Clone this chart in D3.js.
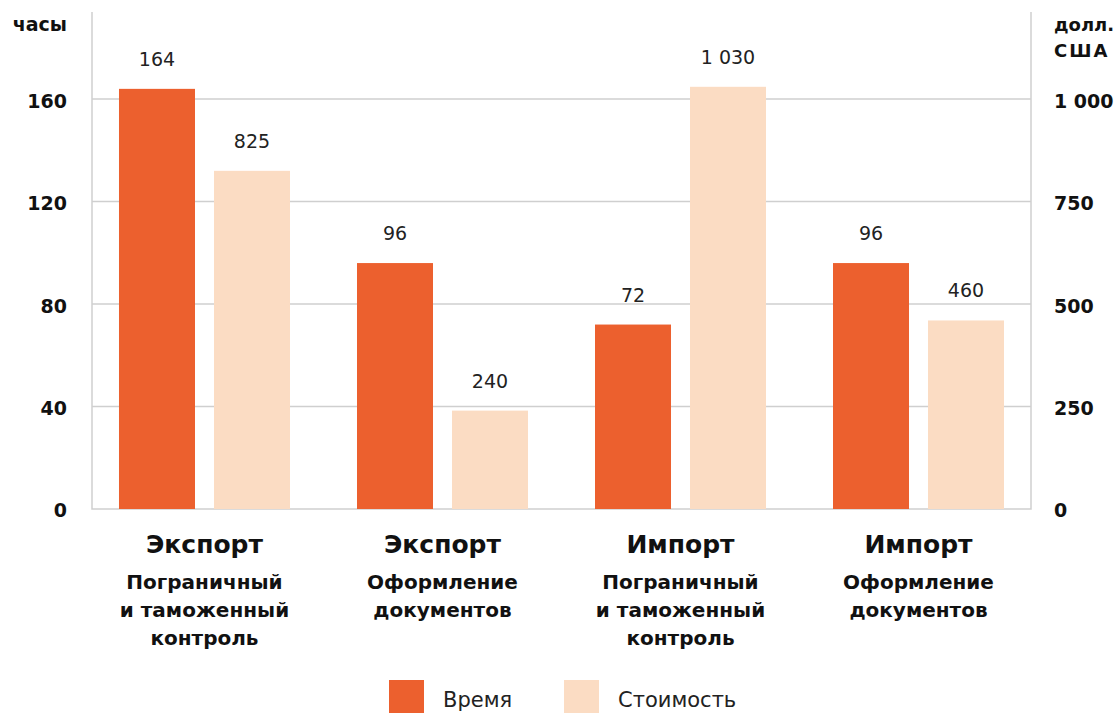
<!DOCTYPE html>
<html>
<head>
<meta charset="utf-8">
<script src="https://cdn.jsdelivr.net/npm/d3@7"></script>
<style>
  body { margin: 0; background: #fff; }
  svg { display: block; font-family: "DejaVu Sans", sans-serif; }
</style>
</head>
<body>
<svg></svg>
<script>
// данные
var categories = ["Экспорт", "Экспорт", "Импорт", "Импорт"];
var subLabels = [
    ["Пограничный", "и таможенный", "контроль"],
    ["Оформление", "документов"],
    ["Пограничный", "и таможенный", "контроль"],
    ["Оформление", "документов"]
];
var hours = [164, 96, 72, 96];
var cost = [825, 240, 1030, 460];
var seriesNames = ["Время", "Стоимость"];
var hoursTicks = [0, 40, 80, 120, 160];
var costTicks = [0, 250, 500, 750, 1000];

var colors = ["#ec602e", "#fbdcc3"];
var width = 1120, height = 713;
var plotLeft = 92, plotRight = 1031, plotTop = 12, plotBottom = 509;

var svg = d3.select("svg").attr("width", width).attr("height", height);
var ru = d3.formatLocale({decimal: ",", thousands: "\u2009", grouping: [3], currency: ["", ""]});
var fmt = function (v) { return ru.format(",")(v).replace(/\u2009/g, " "); };

var x0 = d3.scaleBand()
    .domain(d3.range(categories.length))
    .range([plotLeft, plotRight])
    .paddingInner(0.2815)
    .paddingOuter(0.1134);
var x1 = d3.scaleBand()
    .domain([0, 1])
    .range([0, x0.bandwidth()])
    .paddingInner(0.2);
var yH = d3.scaleLinear().domain([0, 194]).range([plotBottom, plotTop]);
var yC = d3.scaleLinear().domain([0, 194 * 6.25]).range([plotBottom, plotTop]);

// сетка
svg.append("g").selectAll("line")
    .data(hoursTicks.filter(function (d) { return d > 0; }))
    .enter().append("line")
    .attr("x1", plotLeft).attr("x2", plotRight)
    .attr("y1", function (d) { return yH(d); })
    .attr("y2", function (d) { return yH(d); })
    .attr("stroke", "#cfcfcf").attr("stroke-width", 1.5);

// рамка осей
svg.append("path")
    .attr("d", "M" + plotLeft + "," + plotTop + "V" + plotBottom + "H" + plotRight + "V" + plotTop)
    .attr("fill", "none").attr("stroke", "#cfcfcf").attr("stroke-width", 1.5);

// столбцы
var groups = svg.append("g").selectAll("g")
    .data(categories).enter().append("g")
    .attr("transform", function (d, i) { return "translate(" + x0(i) + ",0)"; });

groups.each(function (d, i) {
    var g = d3.select(this);
    var vals = [{s: 0, v: hours[i], y: yH(hours[i])}, {s: 1, v: cost[i], y: yC(cost[i])}];
    g.selectAll("rect").data(vals).enter().append("rect")
        .attr("x", function (e) { return x1(e.s); })
        .attr("width", x1.bandwidth())
        .attr("y", function (e) { return e.y; })
        .attr("height", function (e) { return plotBottom - e.y; })
        .attr("fill", function (e) { return colors[e.s]; });
    g.selectAll("text.val").data(vals).enter().append("text")
        .attr("class", "val")
        .attr("x", function (e) { return x1(e.s) + x1.bandwidth() / 2; })
        .attr("y", function (e) { return e.y - 23; })
        .attr("text-anchor", "middle")
        .attr("font-size", 19)
        .attr("fill", "#222")
        .text(function (e) { return fmt(e.v); });
});

// подписи категорий
groups.append("text")
    .attr("x", x0.bandwidth() / 2).attr("y", 553)
    .attr("text-anchor", "middle")
    .attr("font-size", 25).attr("font-weight", "bold").attr("fill", "#111")
    .text(function (d) { return d; });
groups.each(function (d, i) {
    d3.select(this).selectAll("text.sub").data(subLabels[i]).enter().append("text")
        .attr("class", "sub")
        .attr("x", x0.bandwidth() / 2)
        .attr("y", function (s, k) { return 589 + k * 28; })
        .attr("text-anchor", "middle")
        .attr("font-size", 20).attr("font-weight", "bold").attr("fill", "#111")
        .text(function (s) { return s; });
});

// оси
var axL = svg.append("g")
    .attr("transform", "translate(67,0)")
    .call(d3.axisLeft(yH).tickValues(hoursTicks).tickSize(0).tickPadding(0));
var axR = svg.append("g")
    .attr("transform", "translate(1054,0)")
    .call(d3.axisRight(yC).tickValues(costTicks).tickSize(0).tickPadding(0).tickFormat(fmt));
[axL, axR].forEach(function (ax) {
    ax.select(".domain").remove();
    ax.selectAll("text")
        .attr("font-family", "DejaVu Sans, sans-serif")
        .attr("font-size", 19).attr("font-weight", "bold").attr("fill", "#111")
        .attr("dy", "0.42em");
});

svg.append("text").attr("x", 67).attr("y", 31).attr("text-anchor", "end")
    .attr("font-size", 19).attr("font-weight", "bold").attr("fill", "#111").text("часы");
svg.append("text").attr("x", 1054).attr("y", 31)
    .attr("font-size", 18).attr("font-weight", "bold").attr("fill", "#111").text("долл.");
svg.append("text").attr("x", 1054).attr("y", 57)
    .attr("font-size", 18).attr("font-weight", "bold").attr("fill", "#111")
    .attr("letter-spacing", 2).text("США");

// легенда
var legend = svg.append("g").selectAll("g")
    .data(seriesNames).enter().append("g")
    .attr("transform", function (d, i) { return "translate(" + (389 + i * 175) + ",680)"; });
legend.append("rect").attr("width", 35).attr("height", 34)
    .attr("fill", function (d, i) { return colors[i]; });
legend.append("text").attr("x", 54).attr("y", 27)
    .attr("font-size", 21).attr("fill", "#222")
    .text(function (d) { return d; });
</script>
</body>
</html>
